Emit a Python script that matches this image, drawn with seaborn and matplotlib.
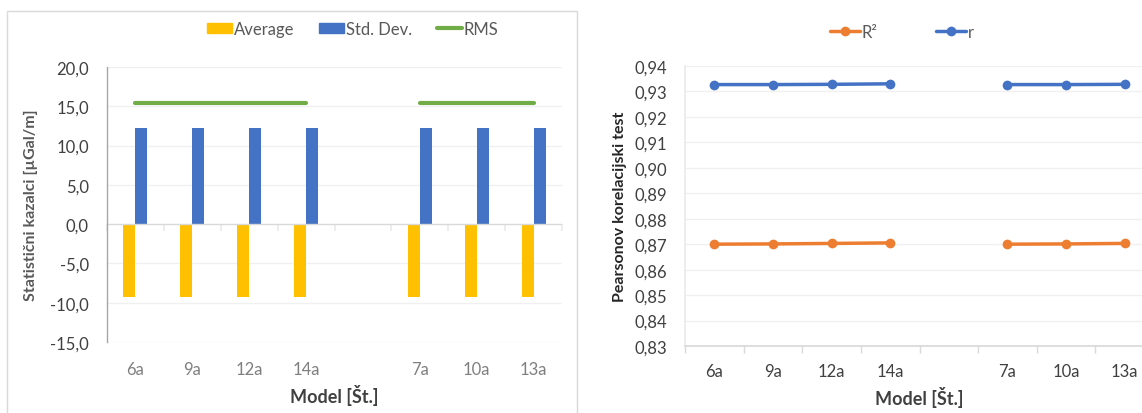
import numpy as np
import pandas as pd
import matplotlib
matplotlib.use("Agg")
import matplotlib.pyplot as plt
import seaborn as sns
from matplotlib.lines import Line2D
from matplotlib.patches import Patch, Rectangle
from matplotlib.ticker import MultipleLocator, FixedLocator, FuncFormatter

# ---- data -------------------------------------------------------------
models = ["6a", "9a", "12a", "14a", " ", "7a", "10a", "13a"]
groups = ["A", "A", "A", "A", None, "B", "B", "B"]

average = [-9.25, -9.25, -9.25, -9.25, np.nan, -9.25, -9.25, -9.25]
std_dev = [12.3, 12.3, 12.3, 12.3, np.nan, 12.3, 12.3, 12.3]
rms = [15.4, 15.4, 15.4, 15.4, np.nan, 15.4, 15.4, 15.4]

r_squared = [0.8700, 0.8701, 0.8703, 0.8705, np.nan, 0.8700, 0.8701, 0.8703]
r_coef = [0.9327, 0.9327, 0.9328, 0.9330, np.nan, 0.9327, 0.9327, 0.9328]

# ---- styling ----------------------------------------------------------
YELLOW = "#FFC000"
BLUE = "#4472C4"
GREEN = "#70AD47"
ORANGE = "#ED7D31"
GRID = "#F0F0F0"
AXIS = "#D9D9D9"
TXT = "#404040"
TXT_LIGHT = "#7F7F7F"

sns.set_theme(style="white")
plt.rcParams["font.family"] = ["Lato", "DejaVu Sans"]

fig = plt.figure(figsize=(11.42, 4.14), dpi=100)
W, H = 1142, 414


def px_axes(left, top, right, bottom):
    return fig.add_axes([left / W, 1 - bottom / H, (right - left) / W, (bottom - top) / H])


def comma(fmt):
    return FuncFormatter(lambda v, _: format(v, fmt).replace(".", ","))


pos = list(range(len(models)))

# ---- left panel: statistics ------------------------------------------
ax1 = px_axes(107, 68, 562, 343)

bars = pd.DataFrame({
    "model": models * 2,
    "stat": ["Average"] * len(models) + ["Std. Dev."] * len(models),
    "value": average + std_dev,
}).dropna()

sns.barplot(data=bars, x="model", y="value", hue="stat", order=models,
            hue_order=["Average", "Std. Dev."], palette=[YELLOW, BLUE],
            width=0.42, gap=0, saturation=1, errorbar=None, linewidth=0,
            legend=False, ax=ax1)

rms_df = pd.DataFrame({"pos": pos, "rms": rms, "group": groups}).dropna()
sns.lineplot(data=rms_df, x="pos", y="rms", units="group", estimator=None,
             color=GREEN, linewidth=3, legend=False, ax=ax1)

ax1.set_xlim(-0.5, len(models) - 0.5)
ax1.set_ylim(-15, 20)
ax1.yaxis.set_major_locator(MultipleLocator(5))
ax1.yaxis.set_major_formatter(comma(".1f"))
ax1.set_xticks(pos, models)
ax1.tick_params(axis="x", length=0, pad=14, labelsize=12, labelcolor=TXT_LIGHT)
ax1.tick_params(axis="y", length=0, pad=13, labelsize=12, labelcolor=TXT)
for v in np.arange(-15, 21, 5):
    if v != 0:
        ax1.axhline(v, color=GRID, lw=1, zorder=0)
ax1.axhline(0, color=AXIS, lw=1, zorder=1)
for s in ("top", "right", "bottom"):
    ax1.spines[s].set_visible(False)
ax1.spines["left"].set_color("#A6A6A6")
ax1.spines["left"].set_linewidth(1)

zero_axis = ax1.secondary_xaxis((0 - (-15)) / (20 - (-15)))
zero_axis.spines["bottom"].set_visible(False)
zero_axis.xaxis.set_major_locator(FixedLocator(np.arange(-0.5, len(models), 1.0)))
zero_axis.tick_params(axis="x", length=5, color="#EBEBEB", labelbottom=False)

ax1.set_xlabel("Model [Št.]", fontsize=13, fontweight="bold", color=TXT, labelpad=5)
ax1.set_ylabel("Statistični kazalci [µGal/m]", fontsize=11.5, fontweight="bold",
               color="#595959", labelpad=9)

fig.legend(handles=[Patch(color=YELLOW, label="Average"),
                    Patch(color=BLUE, label="Std. Dev."),
                    Line2D([], [], color=GREEN, lw=3, label="RMS")],
           loc="center", bbox_to_anchor=(353 / W, 1 - 30 / H), ncol=3,
           frameon=False, fontsize=12, labelcolor="#595959",
           handlelength=1.5, handleheight=0.6, handletextpad=0.1,
           columnspacing=1.5)

fig.add_artist(Rectangle((7 / W, -0.05), (577 - 7) / W, 1.05 - 12 / H,
                         transform=fig.transFigure, fill=False,
                         edgecolor=AXIS, linewidth=1))

# ---- right panel: Pearson correlation ---------------------------------
ax2 = px_axes(685, 67, 1154, 347)

corr = pd.DataFrame({
    "pos": pos * 2,
    "value": r_squared + r_coef,
    "series": ["R²"] * len(models) + ["r"] * len(models),
    "group": groups * 2,
}).dropna()

sns.lineplot(data=corr, x="pos", y="value", hue="series", units="group",
             estimator=None, hue_order=["R²", "r"], palette=[ORANGE, BLUE],
             marker="o", markersize=7, markeredgewidth=0, linewidth=2.5,
             legend=False, ax=ax2)

ax2.set_xlim(-0.5, len(models) - 0.5)
ax2.set_ylim(0.83, 0.94)
ax2.yaxis.set_major_locator(MultipleLocator(0.01))
ax2.yaxis.set_major_formatter(comma(".2f"))
ax2.set_xticks(pos, models)
ax2.xaxis.set_minor_locator(FixedLocator(np.arange(-0.5, len(models), 1.0)))
ax2.tick_params(axis="x", which="major", length=0, pad=12, labelsize=12, labelcolor=TXT)
ax2.tick_params(axis="x", which="minor", length=5, color=AXIS, bottom=True)
ax2.tick_params(axis="y", length=0, pad=13, labelsize=12, labelcolor=TXT)
ax2.grid(axis="y", color=GRID, lw=1)
ax2.set_axisbelow(True)
for s in ("top", "right"):
    ax2.spines[s].set_visible(False)
ax2.spines["bottom"].set_color(AXIS)
ax2.spines["left"].set_color("#EBEBEB")

ax2.set_xlabel("Model [Št.]", fontsize=13, fontweight="bold", color=TXT, labelpad=5)
ax2.set_ylabel("Pearsonov korelacijski test", fontsize=11.5, fontweight="bold",
               color="#262626", labelpad=5)

fig.legend(handles=[Line2D([], [], color=ORANGE, lw=2.5, marker="o", ms=7, mew=0, label="R²"),
                    Line2D([], [], color=BLUE, lw=2.5, marker="o", ms=7, mew=0, label="r")],
           loc="center", bbox_to_anchor=(902 / W, 1 - 33 / H), ncol=2,
           frameon=False, fontsize=12, labelcolor="#595959",
           handlelength=1.8, handletextpad=0.1, columnspacing=3.5)

fig.savefig("out.png", dpi=100)
